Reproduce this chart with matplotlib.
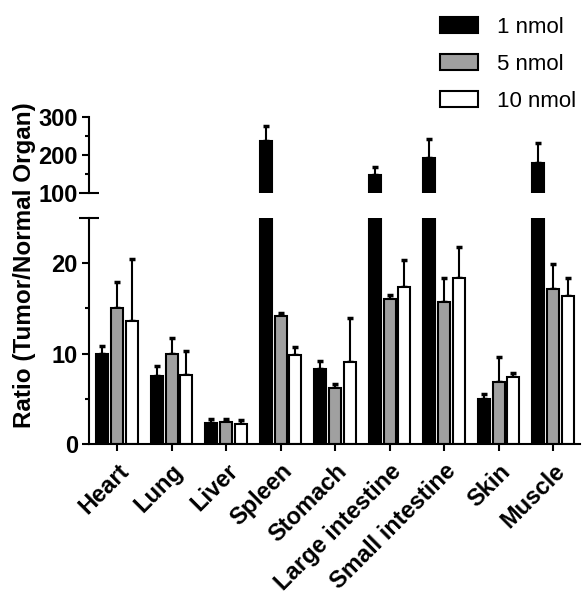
import numpy as np
import matplotlib
matplotlib.use('Agg')
import matplotlib.pyplot as plt
from matplotlib.patches import Patch

plt.rcParams['font.family'] = ['Liberation Sans', 'DejaVu Sans']

organs = ['Heart', 'Lung', 'Liver', 'Spleen', 'Stomach', 'Large intestine',
          'Small intestine', 'Skin', 'Muscle']
doses = ['1 nmol', '5 nmol', '10 nmol']
nmol1 = [10.0, 7.5, 2.4, 237, 8.3, 147, 192, 5.0, 179]
sd1 = [0.9, 1.1, 0.4, 39, 0.9, 21, 49, 0.6, 53]
nmol5 = [15.0, 10.0, 2.5, 14.2, 6.2, 16.0, 15.7, 6.9, 17.1]
sd5 = [2.9, 1.7, 0.3, 0.3, 0.5, 0.5, 2.7, 2.7, 2.8]
nmol10 = [13.6, 7.7, 2.2, 9.9, 9.1, 17.4, 18.4, 7.4, 16.4]
sd10 = [6.8, 2.6, 0.5, 0.8, 4.8, 2.9, 3.4, 0.5, 1.9]
colors = ['black', '#a0a0a0', 'white']

fig = plt.figure(figsize=(5.83, 6.0), dpi=100)
left, width = 89 / 583, 491 / 583
ax_lo = fig.add_axes([left, 1 - 444.3 / 600, width, 226.6 / 600])
ax_hi = fig.add_axes([left, 1 - 192.7 / 600, width, 76 / 600])

x = np.arange(len(organs))
w = 0.22
off = 0.27
lw = 1.5
for ax in (ax_lo, ax_hi):
    for i, (vals, sds) in enumerate([(nmol1, sd1), (nmol5, sd5), (nmol10, sd10)]):
        xs = x + (i - 1) * off
        ax.bar(xs, vals, w, color=colors[i], edgecolor='black', linewidth=lw, zorder=2)
        ax.errorbar(xs, vals, yerr=[np.zeros(len(vals)), sds], fmt='none',
                    ecolor='black', elinewidth=lw, capsize=2.2, capthick=2.5, zorder=1)
    ax.set_xlim(-0.514, 8.495)
    ax.spines['top'].set_visible(False)
    ax.spines['right'].set_visible(False)
    ax.spines['left'].set_linewidth(lw)
    ax.spines['bottom'].set_linewidth(lw)
    ax.tick_params(width=lw, length=5, labelsize=17, pad=3)
    ax.tick_params(which='minor', width=lw, length=3)

# upper part
ax_hi.set_ylim(100, 300)
ax_hi.spines['bottom'].set_visible(False)
ax_hi.set_xticks([])
ax_hi.set_yticks([100, 200, 300])
ax_hi.set_yticklabels(['100', '200', '300'], fontweight='bold', fontsize=17)
ax_hi.set_yticks([150, 250], minor=True)
ax_hi.yaxis.get_major_ticks()[0].tick1line.set_marker('_')
ax_hi.yaxis.get_major_ticks()[0].tick1line.set_markersize(14)

# lower part
ax_lo.set_ylim(0, 25)
ax_lo.set_yticks([0, 10, 20, 25])
ax_lo.set_yticklabels(['0', '10', '20', ''], fontweight='bold', fontsize=17)
ax_lo.set_yticks([5, 15], minor=True)
ax_lo.yaxis.get_major_ticks()[3].tick1line.set_marker('_')
ax_lo.yaxis.get_major_ticks()[3].tick1line.set_markersize(14)
ax_lo.set_xticks(x)
ax_lo.set_xticklabels(organs, rotation=45, ha='right', va='top',
                      rotation_mode='anchor', fontweight='bold', fontsize=17)
ax_lo.tick_params(axis='x', pad=6)

fig.text(25 / 583, 1 - 265 / 600, 'Ratio (Tumor/Normal Organ)', rotation=90,
         ha='center', va='center', fontsize=17.5, fontweight='bold')

handles = [Patch(facecolor=c, edgecolor='black', linewidth=lw) for c in colors]
fig.legend(handles, doses, loc='upper left', bbox_to_anchor=(440 / 583, 1 - 17 / 600),
           frameon=False, fontsize=16, handlelength=1.7, handleheight=0.7,
           handletextpad=0.85, labelspacing=0.72, borderpad=0, borderaxespad=0)

fig.savefig('out.png', dpi=100)
